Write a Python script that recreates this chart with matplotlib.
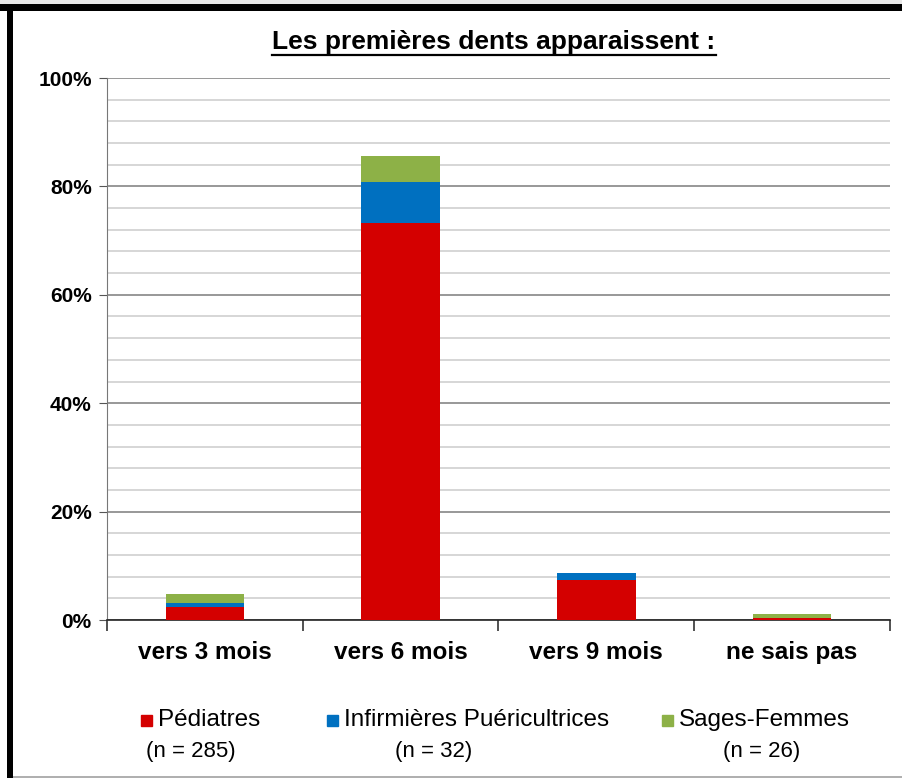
import numpy as np
import matplotlib
matplotlib.use("Agg")
import matplotlib.pyplot as plt
from matplotlib.patches import Rectangle
from matplotlib.lines import Line2D

# data (percent of respondents)
categories = ["vers 3 mois", "vers 6 mois", "vers 9 mois", "ne sais pas"]
series = ["Pédiatres", "Infirmières Puéricultrices", "Sages-Femmes"]
counts = ["(n = 285)", "(n = 32)", "(n = 26)"]
pediatres = [2.4, 73.2, 7.4, 0.3]
infirmieres = [0.7, 7.6, 1.2, 0.0]
sages_femmes = [1.7, 4.9, 0.0, 0.8]
colors = ["#D40000", "#0070C0", "#8DB147"]

W, H = 903, 778
plt.rcParams['font.family'] = ['Liberation Sans', 'DejaVu Sans']

fig = plt.figure(figsize=(W / 100, H / 100), dpi=100)
ax = fig.add_axes([107 / W, 1 - 620 / H, (890 - 107) / W, 542 / H])

x = np.arange(len(categories))
bottom = np.zeros(len(categories))
for vals, col in zip([pediatres, infirmieres, sages_femmes], colors):
    ax.bar(x, vals, 0.4, bottom=bottom, color=col, zorder=3)
    bottom += np.array(vals)

ax.set_xlim(-0.5, 3.5)
ax.set_ylim(0, 100)
ax.set_yticks(range(0, 101, 20))
ax.set_yticklabels([f"{v}%" for v in range(0, 101, 20)], fontsize=15, fontweight='bold')
ax.set_yticks(range(0, 101, 4), minor=True)
ax.grid(which='major', axis='y', color='#868686', lw=1.2, zorder=0)
ax.grid(which='minor', axis='y', color='#cfcfcf', lw=1.2, zorder=0)
ax.tick_params(axis='y', which='major', length=6, color='#555555', pad=5)
ax.tick_params(axis='y', which='minor', length=0)

ax.set_xticks(x)
ax.set_xticklabels(categories, fontsize=17.5, fontweight='bold')
ax.tick_params(axis='x', which='major', length=0, pad=15)
ax.set_xticks(np.arange(-0.5, 3.6, 1), minor=True)
ax.tick_params(axis='x', which='minor', length=8, color='#333333', width=1.2)

for s in ['top', 'right']:
    ax.spines[s].set_visible(False)
ax.spines['left'].set_color('#777777')
ax.spines['bottom'].set_color('#222222')
ax.spines['bottom'].set_linewidth(1.2)

# title with underline
t = fig.text(494 / W, 1 - 42 / H, "Les premières dents apparaissent :",
             ha='center', va='center', fontsize=19, fontweight='bold')
fig.canvas.draw()
bb = t.get_window_extent(fig.canvas.get_renderer())
fig.add_artist(Line2D([bb.x0 / W, bb.x1 / W], [(bb.y0 - 1) / H] * 2,
                      transform=fig.transFigure, color='black', lw=1.6))

# legend drawn by hand to follow the uneven spacing
sq_x = [141, 327, 662]
n_x = [191, 434, 762]
for sx, nx, lab, n, col in zip(sq_x, n_x, series, counts, colors):
    fig.add_artist(Rectangle((sx / W, 1 - 726 / H), 11 / W, 11 / H,
                             transform=fig.transFigure, color=col))
    fig.text((sx + 17) / W, 1 - 720 / H, lab, ha='left', va='center', fontsize=17.5)
    fig.text(nx / W, 1 - 752 / H, n, ha='center', va='center', fontsize=16)

# frame around the slide
fig.add_artist(Rectangle((0, 1 - 4 / H), 1, 4 / H, transform=fig.transFigure,
                         color='#e8e8e8', lw=0))
fig.add_artist(Rectangle((0, 1 - 11 / H), 1, 7 / H, transform=fig.transFigure,
                         color='black', lw=0))
fig.add_artist(Rectangle((7 / W, 0), 6 / W, 1 - 4 / H, transform=fig.transFigure,
                         color='black', lw=0))
fig.add_artist(Rectangle((13 / W, 0), 1, 2 / H, transform=fig.transFigure,
                         color='#b0b0b0', lw=0))

fig.savefig("out.png", dpi=100)
